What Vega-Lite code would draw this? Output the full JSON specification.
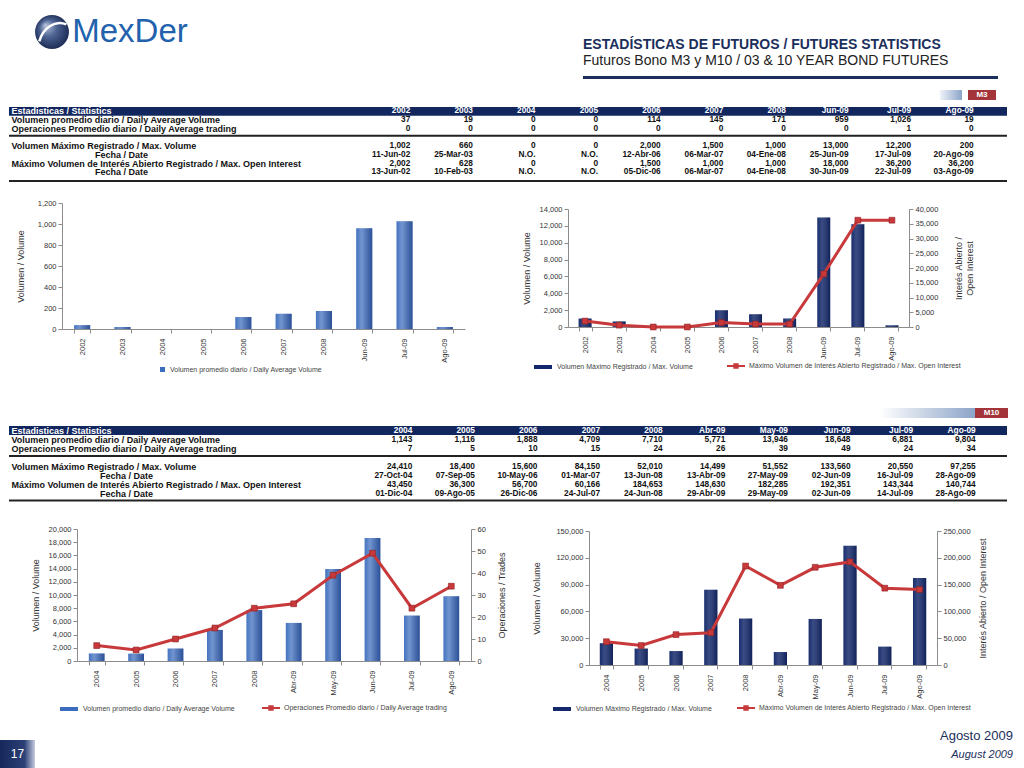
{
  "$schema": "https://vega.github.io/schema/vega-lite/v6.json",
  "padding": 0,
  "background": "white",
  "bounds": "flush",
  "spacing": 0,
  "resolve": {"scale": {"color": "independent"}},
  "config": {
    "view": {"stroke": null},
    "font": "Liberation Sans",
    "concat": {"spacing": 0},
    "axis": {"labelFont": "Liberation Sans", "titleFont": "Liberation Sans", "labelFontSize": 7.5, "labelColor": "#333333", "titleFontSize": 9, "titleFontWeight": "normal", "titleColor": "#333333", "domainColor": "#8c8c8c", "tickColor": "#8c8c8c", "grid": false, "tickSize": 4},
    "legend": {"labelFont": "Liberation Sans", "labelFontSize": 7, "labelColor": "#444444", "labelLimit": 500, "title": null, "padding": 0, "orient": "none", "direction": "horizontal"},
    "title": {"font": "Liberation Sans"}
  },
  "datasets": {
    "blank": [{}],
    "m3": [
      {"p": "2002", "avg": 37, "maxVol": 1002, "maxOI": 2002},
      {"p": "2003", "avg": 19, "maxVol": 660, "maxOI": 628},
      {"p": "2004", "avg": 0, "maxVol": 0, "maxOI": 0},
      {"p": "2005", "avg": 0, "maxVol": 0, "maxOI": 0},
      {"p": "2006", "avg": 114, "maxVol": 2000, "maxOI": 1500},
      {"p": "2007", "avg": 145, "maxVol": 1500, "maxOI": 1000},
      {"p": "2008", "avg": 171, "maxVol": 1000, "maxOI": 1000},
      {"p": "Jun-09", "avg": 959, "maxVol": 13000, "maxOI": 18000},
      {"p": "Jul-09", "avg": 1026, "maxVol": 12200, "maxOI": 36200},
      {"p": "Ago-09", "avg": 19, "maxVol": 200, "maxOI": 36200}
    ],
    "m10": [
      {"p": "2004", "avg": 1143, "trades": 7, "maxVol": 24410, "maxOI": 43450},
      {"p": "2005", "avg": 1116, "trades": 5, "maxVol": 18400, "maxOI": 36300},
      {"p": "2006", "avg": 1888, "trades": 10, "maxVol": 15600, "maxOI": 56700},
      {"p": "2007", "avg": 4709, "trades": 15, "maxVol": 84150, "maxOI": 60166},
      {"p": "2008", "avg": 7710, "trades": 24, "maxVol": 52010, "maxOI": 184653},
      {"p": "Abr-09", "avg": 5771, "trades": 26, "maxVol": 14499, "maxOI": 148630},
      {"p": "May-09", "avg": 13946, "trades": 39, "maxVol": 51552, "maxOI": 182285},
      {"p": "Jun-09", "avg": 18648, "trades": 49, "maxVol": 133560, "maxOI": 192351},
      {"p": "Jul-09", "avg": 6881, "trades": 24, "maxVol": 20550, "maxOI": 143344},
      {"p": "Ago-09", "avg": 9804, "trades": 34, "maxVol": 97255, "maxOI": 140744}
    ],
    "t1": [
      {"row": "Estadisticas / Statistics", "2002": "2002", "2003": "2003", "2004": "2004", "2005": "2005", "2006": "2006", "2007": "2007", "2008": "2008", "Jun-09": "Jun-09", "Jul-09": "Jul-09", "Ago-09": "Ago-09"},
      {"row": "Volumen promedio diario / Daily Average Volume", "2002": "37", "2003": "19", "2004": "0", "2005": "0", "2006": "114", "2007": "145", "2008": "171", "Jun-09": "959", "Jul-09": "1,026", "Ago-09": "19"},
      {"row": "Operaciones Promedio diario / Daily Average trading", "2002": "0", "2003": "0", "2004": "0", "2005": "0", "2006": "0", "2007": "0", "2008": "0", "Jun-09": "0", "Jul-09": "1", "Ago-09": "0"},
      {"row": "Volumen Máximo Registrado / Max. Volume", "2002": "1,002", "2003": "660", "2004": "0", "2005": "0", "2006": "2,000", "2007": "1,500", "2008": "1,000", "Jun-09": "13,000", "Jul-09": "12,200", "Ago-09": "200"},
      {"row": "Fecha / Date#1", "2002": "11-Jun-02", "2003": "25-Mar-03", "2004": "N.O.", "2005": "N.O.", "2006": "12-Abr-06", "2007": "06-Mar-07", "2008": "04-Ene-08", "Jun-09": "25-Jun-09", "Jul-09": "17-Jul-09", "Ago-09": "20-Ago-09"},
      {"row": "Máximo Volumen de Interés Abierto Registrado / Max. Open Interest", "2002": "2,002", "2003": "628", "2004": "0", "2005": "0", "2006": "1,500", "2007": "1,000", "2008": "1,000", "Jun-09": "18,000", "Jul-09": "36,200", "Ago-09": "36,200"},
      {"row": "Fecha / Date#2", "2002": "13-Jun-02", "2003": "10-Feb-03", "2004": "N.O.", "2005": "N.O.", "2006": "05-Dic-06", "2007": "06-Mar-07", "2008": "04-Ene-08", "Jun-09": "30-Jun-09", "Jul-09": "22-Jul-09", "Ago-09": "03-Ago-09"}
    ],
    "t2": [
      {"row": "Estadisticas / Statistics", "2004": "2004", "2005": "2005", "2006": "2006", "2007": "2007", "2008": "2008", "Abr-09": "Abr-09", "May-09": "May-09", "Jun-09": "Jun-09", "Jul-09": "Jul-09", "Ago-09": "Ago-09"},
      {"row": "Volumen promedio diario / Daily Average Volume", "2004": "1,143", "2005": "1,116", "2006": "1,888", "2007": "4,709", "2008": "7,710", "Abr-09": "5,771", "May-09": "13,946", "Jun-09": "18,648", "Jul-09": "6,881", "Ago-09": "9,804"},
      {"row": "Operaciones Promedio diario / Daily Average trading", "2004": "7", "2005": "5", "2006": "10", "2007": "15", "2008": "24", "Abr-09": "26", "May-09": "39", "Jun-09": "49", "Jul-09": "24", "Ago-09": "34"},
      {"row": "Volumen Máximo Registrado / Max. Volume", "2004": "24,410", "2005": "18,400", "2006": "15,600", "2007": "84,150", "2008": "52,010", "Abr-09": "14,499", "May-09": "51,552", "Jun-09": "133,560", "Jul-09": "20,550", "Ago-09": "97,255"},
      {"row": "Fecha / Date#1", "2004": "27-Oct-04", "2005": "07-Sep-05", "2006": "10-May-06", "2007": "01-Mar-07", "2008": "13-Jun-08", "Abr-09": "13-Abr-09", "May-09": "27-May-09", "Jun-09": "02-Jun-09", "Jul-09": "16-Jul-09", "Ago-09": "28-Ago-09"},
      {"row": "Máximo Volumen de Interés Abierto Registrado / Max. Open Interest", "2004": "43,450", "2005": "36,300", "2006": "56,700", "2007": "60,166", "2008": "184,653", "Abr-09": "148,630", "May-09": "182,285", "Jun-09": "192,351", "Jul-09": "143,344", "Ago-09": "140,744"},
      {"row": "Fecha / Date#2", "2004": "01-Dic-04", "2005": "09-Ago-05", "2006": "26-Dic-06", "2007": "24-Jul-07", "2008": "24-Jun-08", "Abr-09": "29-Abr-09", "May-09": "29-May-09", "Jun-09": "02-Jun-09", "Jul-09": "14-Jul-09", "Ago-09": "28-Ago-09"}
    ]
  },
  "vconcat": [
    {
      "bounds": "flush", "spacing": 0,
      "hconcat": [
        {"width": 35, "height": 64, "data": {"name": "blank"}, "mark": "text", "encoding": {"text": {"value": ""}}},
        {"width": 34, "height": 64, "data": {"name": "blank"},
         "layer": [
           {"mark": {"type": "point", "shape": "circle", "filled": true, "opacity": 1, "size": 1150, "color": {"gradient": "radial", "x1": 0.3, "y1": 0.3, "r1": 0, "x2": 0.5, "y2": 0.5, "r2": 0.55, "stops": [{"offset": 0, "color": "#b9c7dc"}, {"offset": 0.45, "color": "#4d6392"}, {"offset": 1, "color": "#17264f"}]}}, "encoding": {}},
           {"mark": {"type": "point", "shape": "M-0.75,0.55C-0.55,-0.2,0.15,-0.75,0.85,-0.45", "filled": false, "opacity": 1, "stroke": "#ffffff", "strokeWidth": 2.5, "size": 1150}, "encoding": {}}
         ]},
        {"width": 122, "height": 64, "data": {"name": "blank"}, "mark": {"type": "text", "text": "MexDer", "font": "Liberation Sans", "fontSize": 33, "color": "#2262ad", "align": "center", "baseline": "middle"}, "encoding": {}}
      ]
    },
    {"width": 1, "height": 76, "data": {"name": "blank"}, "mark": "text", "encoding": {"text": {"value": ""}}},
    {
      "bounds": "flush", "spacing": 0,
      "hconcat": [
        {"width": 583, "height": 3, "data": {"name": "blank"}, "mark": "text", "encoding": {"text": {"value": ""}}},
        {"width": 415, "height": 3, "view": {"fill": "#1b2f5c", "stroke": null},
         "title": {"text": "ESTADÍSTICAS DE FUTUROS / FUTURES STATISTICS", "subtitle": "Futuros Bono M3 y M10 / 03 & 10 YEAR BOND FUTURES", "anchor": "start", "orient": "top", "frame": "group", "font": "Liberation Sans", "fontSize": 14, "fontWeight": "bold", "color": "#1b2f5c", "subtitleFont": "Liberation Sans", "subtitleFontSize": 14, "subtitleColor": "#222222", "subtitlePadding": 2, "offset": 4},
         "data": {"name": "blank"}, "mark": "text", "encoding": {"text": {"value": ""}}}
      ]
    },
    {"width": 1, "height": 14, "data": {"name": "blank"}, "mark": "text", "encoding": {"text": {"value": ""}}},
    {
      "bounds": "flush", "spacing": 0,
      "hconcat": [
        {"width": 940, "height": 10, "data": {"name": "blank"}, "mark": "text", "encoding": {"text": {"value": ""}}},
        {"width": 22, "height": 10, "data": {"name": "blank"}, "mark": {"type": "rect", "color": {"gradient": "linear", "x1": 0, "y1": 0, "x2": 1, "y2": 0, "stops": [{"offset": 0, "color": "#eef2f8"}, {"offset": 1, "color": "#8ca4c8"}]}}, "encoding": {}},
        {"width": 6, "height": 10, "data": {"name": "blank"}, "mark": "text", "encoding": {"text": {"value": ""}}},
        {"width": 28, "height": 10, "view": {"fill": "#a3353a", "stroke": null}, "data": {"name": "blank"}, "mark": {"type": "text", "text": "M3", "color": "#ffffff", "fontSize": 8, "fontWeight": "bold", "baseline": "middle"}, "encoding": {}}
      ]
    },
    {"width": 1, "height": 17, "data": {"name": "blank"}, "mark": "text", "encoding": {"text": {"value": ""}}},
    {
      "bounds": "flush", "spacing": 0,
      "hconcat": [
        {"width": 9, "height": 1, "data": {"name": "blank"}, "mark": "text", "encoding": {"text": {"value": ""}}},
        {
          "width": 998, "height": 78.3,
          "data": {"name": "t1"},
          "transform": [{"fold": ["2002", "2003", "2004", "2005", "2006", "2007", "2008", "Jun-09", "Jul-09", "Ago-09"], "as": ["col", "val"]}],
          "encoding": {
            "y": {"field": "row", "type": "nominal",
              "scale": {"domain": ["Estadisticas / Statistics", "Volumen promedio diario / Daily Average Volume", "Operaciones Promedio diario / Daily Average trading", "~gap", "Volumen Máximo Registrado / Max. Volume", "Fecha / Date#1", "Máximo Volumen de Interés Abierto Registrado / Max. Open Interest", "Fecha / Date#2", "~end"], "paddingInner": 0, "paddingOuter": 0},
              "axis": {"title": null, "domain": false, "ticks": false, "tickSize": 0, "zindex": 1, "labelFont": "Liberation Sans", "labelFontSize": 9, "labelFontWeight": "bold", "labelLimit": 500, "labelOverlap": false, "labelBaseline": "middle",
                "values": ["Estadisticas / Statistics", "Volumen promedio diario / Daily Average Volume", "Operaciones Promedio diario / Daily Average trading", "Volumen Máximo Registrado / Max. Volume", "Fecha / Date#1", "Máximo Volumen de Interés Abierto Registrado / Max. Open Interest", "Fecha / Date#2"],
                "labelExpr": "split(datum.value, '#')[0]",
                "labelAlign": {"condition": {"test": "indexof(datum.value, 'Fecha') === 0", "value": "center"}, "value": "left"},
                "labelPadding": {"condition": {"test": "indexof(datum.value, 'Fecha') === 0", "value": -112}, "value": -2},
                "labelColor": {"condition": {"test": "datum.value === 'Estadisticas / Statistics'", "value": "#ffffff"}, "value": "#111111"}}}
          },
          "layer": [
            {"transform": [{"filter": "datum.row === 'Estadisticas / Statistics' && datum.col === '2002'"}], "mark": {"type": "rect", "color": "#13275f"}, "encoding": {}},
            {"transform": [{"filter": "datum.row === 'Operaciones Promedio diario / Daily Average trading' && datum.col === '2002'"}], "mark": {"type": "rule", "color": "#222222", "strokeWidth": 2, "yOffset": 6.95}, "encoding": {}},
            {"transform": [{"filter": "datum.row === 'Fecha / Date#2' && datum.col === '2002'"}], "mark": {"type": "rule", "color": "#222222", "strokeWidth": 2, "yOffset": 8.75}, "encoding": {}},
            {"mark": {"type": "text", "align": "right", "baseline": "middle", "font": "Liberation Sans", "fontSize": 8.3, "fontWeight": "bold"},
             "encoding": {
               "x": {"field": "col", "type": "nominal", "scale": {"type": "point", "domain": ["2002", "2003", "2004", "2005", "2006", "2007", "2008", "Jun-09", "Jul-09", "Ago-09"], "range": [370, 996]}, "axis": null},
               "text": {"field": "val"},
               "color": {"condition": {"test": "datum.row === 'Estadisticas / Statistics'", "value": "#ffffff"}, "value": "#111111"}
             }}
          ]
        }
      ]
    },
    {"width": 1, "height": 96, "data": {"name": "blank"}, "mark": "text", "encoding": {"text": {"value": ""}}},
    {
      "bounds": "flush", "spacing": 0,
      "resolve": {"scale": {"color": "independent"}},
      "hconcat": [
        {"width": 62, "height": 1, "data": {"name": "blank"}, "mark": "text", "encoding": {"text": {"value": ""}}},
        {
          "width": 403, "height": 126,
          "data": {"name": "m3"},
          "encoding": {
            "x": {"field": "p", "type": "nominal", "sort": null, "title": null, "scale": {"paddingInner": 0.6, "paddingOuter": 0.3}, "axis": {"labelAngle": -90, "tickBand": "extent", "labelPadding": 5}},
            "y": {"field": "avg", "type": "quantitative", "title": "Volumen / Volume", "scale": {"domain": [0, 1200]}, "axis": {"values": [0, 200, 400, 600, 800, 1000, 1200], "format": ",d", "titlePadding": 12}}
          },
          "layer": [
            {"mark": {"type": "bar"},
             "encoding": {"color": {"datum": "Volumen promedio diario / Daily Average Volume", "type": "nominal", "scale": {"range": ["#3b6cbd"]}, "legend": {"legendX": 97, "legendY": 163, "symbolType": "square", "symbolSize": 25}}}},
            {"mark": {"type": "bar", "fill": {"gradient": "linear", "x1": 0, "y1": 0, "x2": 1, "y2": 0, "stops": [{"offset": 0, "color": "rgba(255,255,255,0.05)"}, {"offset": 0.35, "color": "rgba(255,255,255,0.28)"}, {"offset": 1, "color": "rgba(0,0,40,0.25)"}]}}, "encoding": {}}
          ]
        },
        {"width": 103, "height": 1, "data": {"name": "blank"}, "mark": "text", "encoding": {"text": {"value": ""}}},
        {
          "bounds": "flush", "spacing": 0,
          "vconcat": [
            {"width": 1, "height": 6, "data": {"name": "blank"}, "mark": "text", "encoding": {"text": {"value": ""}}},
            {
              "width": 341, "height": 118,
              "data": {"name": "m3"},
              "encoding": {
                "x": {"field": "p", "type": "nominal", "sort": null, "title": null, "scale": {"paddingInner": 0.62, "paddingOuter": 0.31}, "axis": {"labelAngle": -90, "tickBand": "extent", "labelPadding": 5}}
              },
              "layer": [
                {
                  "encoding": {"y": {"field": "maxVol", "type": "quantitative", "title": "Volumen / Volume", "scale": {"domain": [0, 14000]}, "axis": {"values": [0, 2000, 4000, 6000, 8000, 10000, 12000, 14000], "format": ",d", "titlePadding": 8}}},
                  "layer": [
                    {"mark": {"type": "bar"},
                     "encoding": {"color": {"datum": "Volumen Máximo Registrado / Max. Volume", "type": "nominal", "scale": {"range": ["#14296b"]}, "legend": {"legendX": -35, "legendY": 148, "symbolType": "M-1,-0.22H1V0.22H-1Z", "symbolSize": 324}}}},
                    {"mark": {"type": "bar", "fill": {"gradient": "linear", "x1": 0, "y1": 0, "x2": 1, "y2": 0, "stops": [{"offset": 0, "color": "rgba(255,255,255,0.02)"}, {"offset": 0.35, "color": "rgba(255,255,255,0.16)"}, {"offset": 1, "color": "rgba(0,0,30,0.25)"}]}}, "encoding": {}}
                  ]
                },
                {
                  "encoding": {"y": {"field": "maxOI", "type": "quantitative", "title": ["Interés Abierto /", "Open Interest"], "scale": {"domain": [0, 40000]}, "axis": {"orient": "right", "values": [0, 5000, 10000, 15000, 20000, 25000, 30000, 35000, 40000], "format": ",d", "titleAngle": 270, "titleBaseline": "top", "titlePadding": 6}}},
                  "layer": [
                    {"mark": {"type": "line", "color": "#c8393b", "strokeWidth": 3}, "encoding": {}},
                    {"mark": {"type": "square", "size": 34, "filled": true, "opacity": 1, "stroke": "#8e1f22", "strokeWidth": 0.6},
                     "encoding": {"color": {"datum": "Máximo Volumen de Interés Abierto Registrado / Max. Open Interest", "type": "nominal", "scale": {"range": ["#c8393b"]}, "legend": {"legendX": 159, "legendY": 148, "symbolType": "M-1,-0.11H1V0.11H-1Z M-0.3,-0.3H0.3V0.3H-0.3Z", "symbolSize": 324, "symbolStrokeWidth": 0}}}}
                  ]
                }
              ],
              "resolve": {"scale": {"y": "independent", "color": "independent"}}
            }
          ]
        }
      ]
    },
    {"width": 1, "height": 205, "data": {"name": "blank"}, "mark": "text", "encoding": {"text": {"value": ""}}},
    {
      "bounds": "flush", "spacing": 0,
      "hconcat": [
        {"width": 880, "height": 10, "data": {"name": "blank"}, "mark": "text", "encoding": {"text": {"value": ""}}},
        {"width": 95, "height": 10, "data": {"name": "blank"}, "mark": {"type": "rect", "color": {"gradient": "linear", "x1": 0, "y1": 0, "x2": 1, "y2": 0, "stops": [{"offset": 0, "color": "#ffffff"}, {"offset": 1, "color": "#8ca4c8"}]}}, "encoding": {}},
        {"width": 33, "height": 10, "view": {"fill": "#a3353a", "stroke": null}, "data": {"name": "blank"}, "mark": {"type": "text", "text": "M10", "color": "#ffffff", "fontSize": 8, "fontWeight": "bold", "baseline": "middle"}, "encoding": {}}
      ]
    },
    {"width": 1, "height": 18, "data": {"name": "blank"}, "mark": "text", "encoding": {"text": {"value": ""}}},
    {
      "bounds": "flush", "spacing": 0,
      "hconcat": [
        {"width": 9, "height": 1, "data": {"name": "blank"}, "mark": "text", "encoding": {"text": {"value": ""}}},
        {
          "width": 998, "height": 81,
          "data": {"name": "t2"},
          "transform": [{"fold": ["2004", "2005", "2006", "2007", "2008", "Abr-09", "May-09", "Jun-09", "Jul-09", "Ago-09"], "as": ["col", "val"]}],
          "encoding": {
            "y": {"field": "row", "type": "nominal",
              "scale": {"domain": ["Estadisticas / Statistics", "Volumen promedio diario / Daily Average Volume", "Operaciones Promedio diario / Daily Average trading", "~gap", "Volumen Máximo Registrado / Max. Volume", "Fecha / Date#1", "Máximo Volumen de Interés Abierto Registrado / Max. Open Interest", "Fecha / Date#2", "~end"], "paddingInner": 0, "paddingOuter": 0},
              "axis": {"title": null, "domain": false, "ticks": false, "tickSize": 0, "zindex": 1, "labelFont": "Liberation Sans", "labelFontSize": 9, "labelFontWeight": "bold", "labelLimit": 500, "labelOverlap": false, "labelBaseline": "middle",
                "values": ["Estadisticas / Statistics", "Volumen promedio diario / Daily Average Volume", "Operaciones Promedio diario / Daily Average trading", "Volumen Máximo Registrado / Max. Volume", "Fecha / Date#1", "Máximo Volumen de Interés Abierto Registrado / Max. Open Interest", "Fecha / Date#2"],
                "labelExpr": "split(datum.value, '#')[0]",
                "labelAlign": {"condition": {"test": "indexof(datum.value, 'Fecha') === 0", "value": "center"}, "value": "left"},
                "labelPadding": {"condition": {"test": "indexof(datum.value, 'Fecha') === 0", "value": -117}, "value": -2},
                "labelColor": {"condition": {"test": "datum.value === 'Estadisticas / Statistics'", "value": "#ffffff"}, "value": "#111111"}}}
          },
          "layer": [
            {"transform": [{"filter": "datum.row === 'Estadisticas / Statistics' && datum.col === '2004'"}], "mark": {"type": "rect", "color": "#13275f"}, "encoding": {}},
            {"transform": [{"filter": "datum.row === 'Operaciones Promedio diario / Daily Average trading' && datum.col === '2004'"}], "mark": {"type": "rule", "color": "#222222", "strokeWidth": 2, "yOffset": 7.5}, "encoding": {}},
            {"transform": [{"filter": "datum.row === 'Fecha / Date#2' && datum.col === '2004'"}], "mark": {"type": "rule", "color": "#222222", "strokeWidth": 2, "yOffset": 7}, "encoding": {}},
            {"mark": {"type": "text", "align": "right", "baseline": "middle", "font": "Liberation Sans", "fontSize": 8.3, "fontWeight": "bold"},
             "encoding": {
               "x": {"field": "col", "type": "nominal", "scale": {"type": "point", "domain": ["2004", "2005", "2006", "2007", "2008", "Abr-09", "May-09", "Jun-09", "Jul-09", "Ago-09"], "range": [372, 998]}, "axis": null},
               "text": {"field": "val"},
               "color": {"condition": {"test": "datum.row === 'Estadisticas / Statistics'", "value": "#ffffff"}, "value": "#111111"}
             }}
          ]
        }
      ]
    },
    {"width": 1, "height": 103, "data": {"name": "blank"}, "mark": "text", "encoding": {"text": {"value": ""}}},
    {
      "bounds": "flush", "spacing": 0,
      "resolve": {"scale": {"color": "independent"}},
      "hconcat": [
        {"width": 77, "height": 1, "data": {"name": "blank"}, "mark": "text", "encoding": {"text": {"value": ""}}},
        {
          "width": 394, "height": 132,
          "data": {"name": "m10"},
          "encoding": {
            "x": {"field": "p", "type": "nominal", "sort": null, "title": null, "scale": {"paddingInner": 0.6, "paddingOuter": 0.3}, "axis": {"labelAngle": -90, "tickBand": "extent", "labelPadding": 5}}
          },
          "layer": [
            {
              "encoding": {"y": {"field": "avg", "type": "quantitative", "title": "Volumen / Volume", "scale": {"domain": [0, 20000]}, "axis": {"values": [0, 2000, 4000, 6000, 8000, 10000, 12000, 14000, 16000, 18000, 20000], "format": ",d", "titlePadding": 8}}},
              "layer": [
                {"mark": {"type": "bar"},
                 "encoding": {"color": {"datum": "Volumen promedio diario / Daily Average Volume", "type": "nominal", "scale": {"range": ["#3b6cbd"]}, "legend": {"legendX": -18, "legendY": 170, "symbolType": "M-1,-0.22H1V0.22H-1Z", "symbolSize": 324}}}},
                {"mark": {"type": "bar", "fill": {"gradient": "linear", "x1": 0, "y1": 0, "x2": 1, "y2": 0, "stops": [{"offset": 0, "color": "rgba(255,255,255,0.05)"}, {"offset": 0.35, "color": "rgba(255,255,255,0.28)"}, {"offset": 1, "color": "rgba(0,0,40,0.25)"}]}}, "encoding": {}}
              ]
            },
            {
              "encoding": {"y": {"field": "trades", "type": "quantitative", "title": "Operaciones / Trades", "scale": {"domain": [0, 60]}, "axis": {"orient": "right", "values": [0, 10, 20, 30, 40, 50, 60], "format": ",d", "titleAngle": 270, "titleBaseline": "top", "titlePadding": 12}}},
              "layer": [
                {"mark": {"type": "line", "color": "#c8393b", "strokeWidth": 3}, "encoding": {}},
                {"mark": {"type": "square", "size": 34, "filled": true, "opacity": 1, "stroke": "#8e1f22", "strokeWidth": 0.6},
                 "encoding": {"color": {"datum": "Operaciones Promedio diario / Daily Average trading", "type": "nominal", "scale": {"range": ["#c8393b"]}, "legend": {"legendX": 185, "legendY": 170, "symbolType": "M-1,-0.11H1V0.11H-1Z M-0.3,-0.3H0.3V0.3H-0.3Z", "symbolSize": 324, "symbolStrokeWidth": 0}}}}
              ]
            }
          ],
          "resolve": {"scale": {"y": "independent", "color": "independent"}}
        },
        {"width": 118, "height": 1, "data": {"name": "blank"}, "mark": "text", "encoding": {"text": {"value": ""}}},
        {
          "bounds": "flush", "spacing": 0,
          "vconcat": [
            {"width": 1, "height": 2, "data": {"name": "blank"}, "mark": "text", "encoding": {"text": {"value": ""}}},
            {
              "width": 348, "height": 134,
              "data": {"name": "m10"},
              "encoding": {
                "x": {"field": "p", "type": "nominal", "sort": null, "title": null, "scale": {"paddingInner": 0.62, "paddingOuter": 0.31}, "axis": {"labelAngle": -90, "tickBand": "extent", "labelPadding": 5}}
              },
              "layer": [
                {
                  "encoding": {"y": {"field": "maxVol", "type": "quantitative", "title": "Volumen / Volume", "scale": {"domain": [0, 150000]}, "axis": {"values": [0, 30000, 60000, 90000, 120000, 150000], "format": ",d", "titlePadding": 14}}},
                  "layer": [
                    {"mark": {"type": "bar"},
                     "encoding": {"color": {"datum": "Volumen Máximo Registrado / Max. Volume", "type": "nominal", "scale": {"range": ["#14296b"]}, "legend": {"legendX": -37, "legendY": 168, "symbolType": "M-1,-0.22H1V0.22H-1Z", "symbolSize": 324}}}},
                    {"mark": {"type": "bar", "fill": {"gradient": "linear", "x1": 0, "y1": 0, "x2": 1, "y2": 0, "stops": [{"offset": 0, "color": "rgba(255,255,255,0.02)"}, {"offset": 0.35, "color": "rgba(255,255,255,0.16)"}, {"offset": 1, "color": "rgba(0,0,30,0.25)"}]}}, "encoding": {}}
                  ]
                },
                {
                  "encoding": {"y": {"field": "maxOI", "type": "quantitative", "title": "Interés Abierto / Open Interest", "scale": {"domain": [0, 250000]}, "axis": {"orient": "right", "values": [0, 50000, 100000, 150000, 200000, 250000], "format": ",d", "titleAngle": 270, "titleBaseline": "top", "titlePadding": 8}}},
                  "layer": [
                    {"mark": {"type": "line", "color": "#c8393b", "strokeWidth": 3}, "encoding": {}},
                    {"mark": {"type": "square", "size": 34, "filled": true, "opacity": 1, "stroke": "#8e1f22", "strokeWidth": 0.6},
                     "encoding": {"color": {"datum": "Máximo Volumen de Interés Abierto Registrado / Max. Open Interest", "type": "nominal", "scale": {"range": ["#c8393b"]}, "legend": {"legendX": 148, "legendY": 168, "symbolType": "M-1,-0.11H1V0.11H-1Z M-0.3,-0.3H0.3V0.3H-0.3Z", "symbolSize": 324, "symbolStrokeWidth": 0}}}}
                  ]
                }
              ],
              "resolve": {"scale": {"y": "independent", "color": "independent"}}
            }
          ]
        }
      ]
    },
    {"width": 1, "height": 197, "data": {"name": "blank"}, "mark": "text", "encoding": {"text": {"value": ""}}},
    {
      "bounds": "flush", "spacing": 0,
      "hconcat": [
        {"width": 913, "height": 1, "data": {"name": "blank"}, "mark": "text", "encoding": {"text": {"value": ""}}},
        {"width": 100, "height": 1,
         "title": {"text": "Agosto 2009", "subtitle": "August 2009", "orient": "bottom", "anchor": "end", "frame": "group", "font": "Liberation Sans", "fontSize": 13, "fontWeight": "normal", "color": "#1b2f5c", "subtitleFont": "Liberation Sans", "subtitleFontSize": 11, "subtitleFontStyle": "italic", "subtitleColor": "#1b2f5c", "subtitlePadding": 6, "offset": -2},
         "data": {"name": "blank"}, "mark": "text", "encoding": {"text": {"value": ""}}}
      ]
    },
    {"width": 1, "height": 14, "data": {"name": "blank"}, "mark": "text", "encoding": {"text": {"value": ""}}},
    {"width": 35, "height": 28, "data": {"name": "blank"},
     "layer": [
       {"mark": {"type": "rect", "color": {"gradient": "linear", "x1": 0, "y1": 0, "x2": 1, "y2": 0, "stops": [{"offset": 0, "color": "#16285a"}, {"offset": 0.7, "color": "#2c4077"}, {"offset": 1, "color": "#c6cde0"}]}}, "encoding": {}},
       {"mark": {"type": "text", "text": "17", "color": "#ffffff", "fontSize": 12, "baseline": "middle"}, "encoding": {}}
     ]}
  ]
}
